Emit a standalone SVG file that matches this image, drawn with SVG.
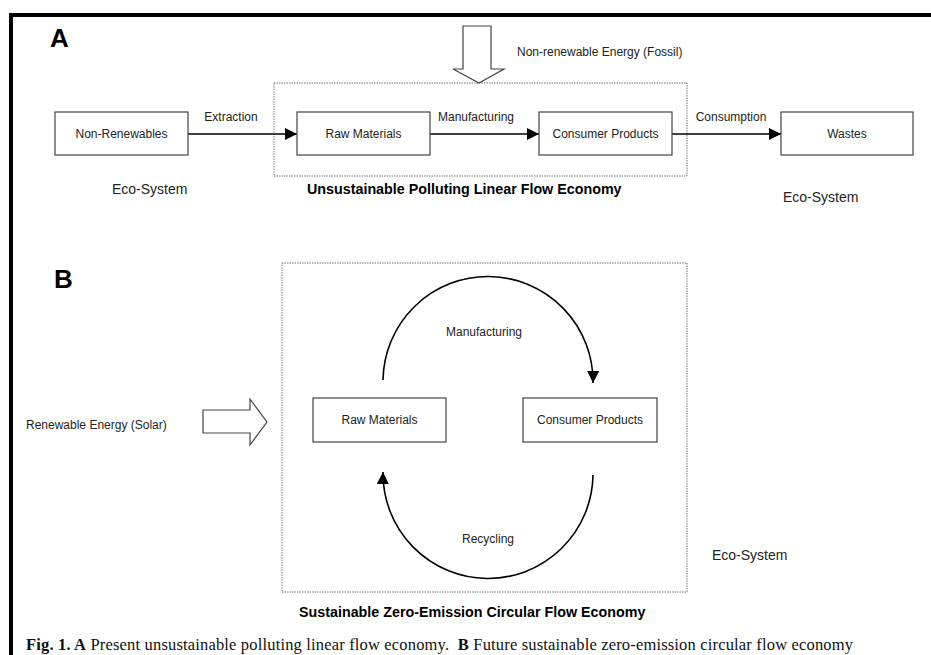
<svg xmlns="http://www.w3.org/2000/svg" width="931" height="655" viewBox="0 0 931 655">
<defs>
<marker id="ah" markerWidth="12" markerHeight="12" refX="12" refY="6" orient="auto" markerUnits="userSpaceOnUse"><path d="M0,0 L12,6 L0,12 Z" fill="#000"/></marker>
<style>
.t{font-family:"Liberation Sans",Arial,sans-serif;fill:#222}
.s{font-size:12px}
.m{font-size:14px}
.b{font-size:14.3px;font-weight:bold;fill:#000}
.L{font-size:26px;font-weight:bold;fill:#000}
.box{fill:#fff;stroke:#444;stroke-width:1.2}
.dot{fill:none;stroke:#777;stroke-width:1;stroke-dasharray:1.5,1}
.ln{fill:none;stroke:#000;stroke-width:1.6}
.blk{fill:#fff;stroke:#444;stroke-width:1.2}
.cap{font-family:"Liberation Serif","Times New Roman",serif;font-size:16.5px;fill:#111}
</style>
</defs>
<rect width="931" height="655" fill="#fff"/>
<path d="M11,655 V15 H931" fill="none" stroke="#000" stroke-width="4"/>

<text class="t L" x="50" y="47">A</text>
<text class="t L" x="54" y="288">B</text>

<rect class="dot" x="274" y="83" width="413" height="93"/>
<rect class="dot" x="282" y="263" width="405" height="329"/>

<g id="connectors">
<line class="ln" x1="188" y1="134" x2="297" y2="134" marker-end="url(#ah)"/>
<line class="ln" x1="430" y1="134" x2="539" y2="134" marker-end="url(#ah)"/>
<line class="ln" x1="672" y1="134" x2="781" y2="134" marker-end="url(#ah)"/>
<path class="ln" d="M383,380 A105,105 0 0 1 593,383" marker-end="url(#ah)"/>
<path class="ln" d="M593,475 A105,105 0 0 1 383,472" marker-end="url(#ah)"/>
</g>

<text class="t s" x="231" y="121" text-anchor="middle">Extraction</text>
<text class="t s" x="476" y="121" text-anchor="middle">Manufacturing</text>
<text class="t s" x="731" y="121" text-anchor="middle">Consumption</text>
<text class="t s" x="484" y="336" text-anchor="middle">Manufacturing</text>
<text class="t s" x="488" y="543" text-anchor="middle">Recycling</text>

<g id="fossil">
<path class="blk" d="M463,26 H491 V69 H504 L479,83 L453,69 H463 Z"/>
<text class="t s" x="517" y="56">Non-renewable Energy (Fossil)</text>
</g>
<g id="solar">
<path class="blk" d="M203,410 H250 V399 L267,422 L250,445 V433 H203 Z"/>
<text class="t s" x="26" y="429">Renewable Energy (Solar)</text>
</g>

<g id="nonrenewables"><rect class="box" x="55" y="112" width="133" height="43"/><text class="t s" x="121.5" y="138" text-anchor="middle">Non-Renewables</text></g>
<g id="rawA"><rect class="box" x="297" y="112" width="133" height="43"/><text class="t s" x="363.5" y="138" text-anchor="middle">Raw Materials</text></g>
<g id="consumerA"><rect class="box" x="539" y="112" width="133" height="43"/><text class="t s" x="605.5" y="138" text-anchor="middle">Consumer Products</text></g>
<g id="wastes"><rect class="box" x="781" y="112" width="132" height="43"/><text class="t s" x="847" y="138" text-anchor="middle">Wastes</text></g>
<g id="rawB"><rect class="box" x="313" y="398" width="133" height="44"/><text class="t s" x="379.5" y="424" text-anchor="middle">Raw Materials</text></g>
<g id="consumerB"><rect class="box" x="523" y="398" width="134" height="44"/><text class="t s" x="590" y="424" text-anchor="middle">Consumer Products</text></g>

<text class="t m" x="112" y="194">Eco-System</text>
<text class="t m" x="783" y="202">Eco-System</text>
<text class="t m" x="712" y="560">Eco-System</text>
<text class="t b" x="307" y="194">Unsustainable Polluting Linear Flow Economy</text>
<text class="t b" x="299" y="617">Sustainable Zero-Emission Circular Flow Economy</text>

<text class="cap" x="26" y="650" xml:space="preserve" textLength="827" lengthAdjust="spacing"><tspan font-weight="bold">Fig. 1. A</tspan> Present unsustainable polluting linear flow economy.  <tspan font-weight="bold">B</tspan> Future sustainable zero-emission circular flow economy</text>
</svg>
